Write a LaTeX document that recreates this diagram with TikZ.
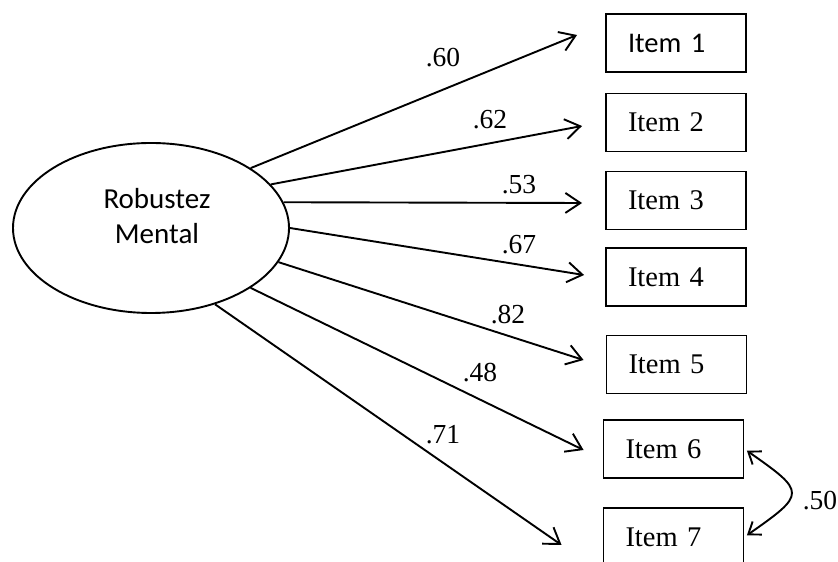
\documentclass[tikz,border=0pt]{standalone}
\usepackage{fontspec}
\setmainfont{Liberation Serif}
\newfontfamily\calibri{Carlito}
\usetikzlibrary{arrows.meta,calc,shapes.geometric}

\begin{document}
\begin{tikzpicture}[x=1pt, y=1pt, line width=1.9pt,
        latent/.style={draw, ellipse, minimum width=276pt, minimum height=170pt, inner sep=0pt},
        itembox/.style={draw, rectangle, minimum height=58pt, inner xsep=22pt, text width=96pt, align=left,
            font=\fontsize{28.5}{34}\selectfont},
        load/.style={-{Straight Barb[length=15pt,width=20pt]}},
        corr/.style={{Straight Barb[length=11pt,width=16pt]}-{Straight Barb[length=11pt,width=16pt]}},
        coef/.style={inner sep=0pt, font=\fontsize{27.5}{32}\selectfont}]
    \clip (0, 0) rectangle (838, 562);

    \node[latent] (robustez) at (151, 334) {};
    \node[align=center, font=\calibri\fontsize{29}{35}\selectfont] (robustezlbl) at (157, 346) {Robustez\\Mental};

    \node[itembox, font=\calibri\fontsize{28.5}{34}\selectfont] (item1) at (676, 519) {Item 1};
    \node[itembox] (item2) at (676, 439.5) {Item 2};
    \node[itembox] (item3) at (676, 361.5) {Item 3};
    \node[itembox] (item4) at (676, 285) {Item 4};
    \node[itembox] (item5) at (676.5, 197.5) {Item 5};
    \node[itembox] (item6) at (673.5, 113) {Item 6};
    \node[itembox] (item7) at (673.5, 25) {Item 7};

    % loadings
    \foreach \i/\a/\dx/\dy/\v/\lx/\ly in {1/31/-28/8/.60/443/504, 2/20/-23/-3.5/.62/490/442,
            3/11/-23/-2.5/.53/519/377, 4/0/-21/2/.67/519/317, 5/-15/-22/4.5/.82/508/247,
            6/-31/-19/-1/.48/480/189, 7/-50/-41/-8/.71/443/127} {
        \draw[load] (robustez.\a) -- ($(item\i.west)+(\dx, \dy)$);
        \node[coef] (coef\i) at (\lx, \ly) {\v};
    }

    % error covariance
    \draw[corr, shorten <=3pt, shorten >=3pt] (item6.east) to[out=-35, in=35, looseness=2.2] (item7.east);
    \node[coef] (coef67) at (820, 61) {.50};
\end{tikzpicture}
\end{document}
